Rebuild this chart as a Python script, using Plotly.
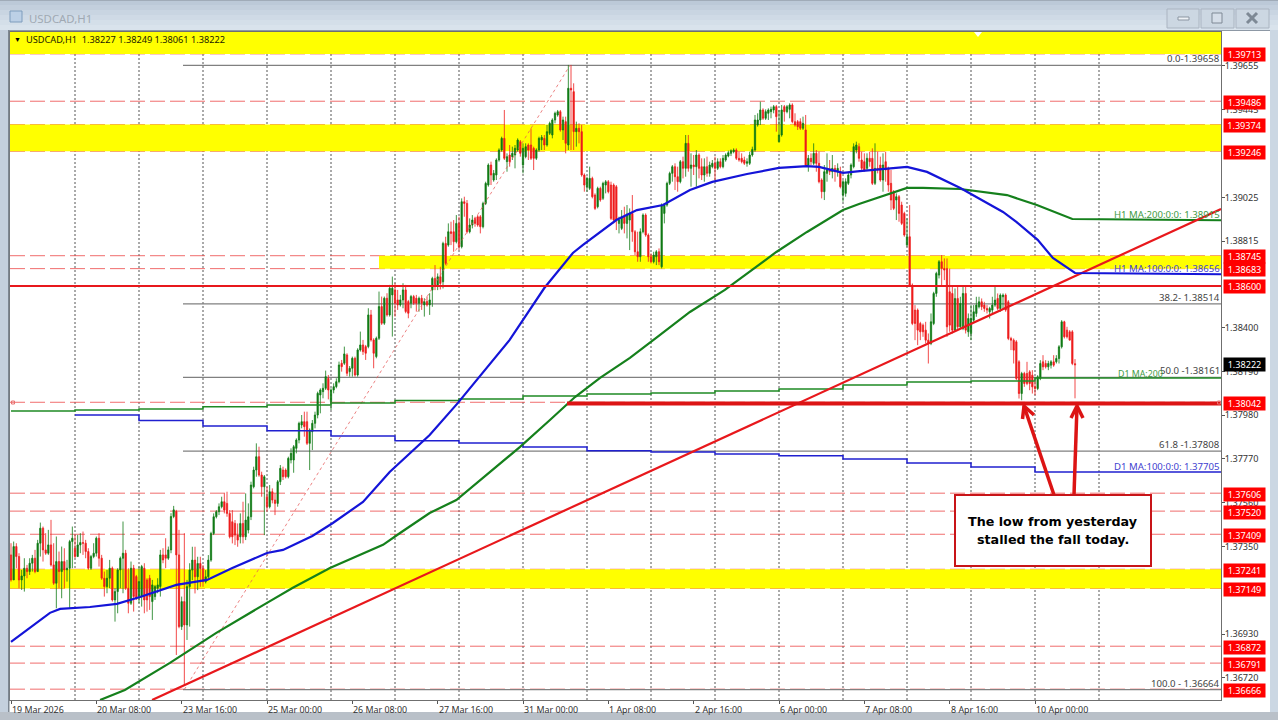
import plotly.graph_objects as go

# OHLC values in points (37310 means 1.37310), read bar by bar, H1 bars from 19 Mar 2026
opens_pts = [
37310,37190,37350,37302,37190,37209,37246,37230,37270,37294,37230,37366,37438,37334,37318,37358,37262,37174,37278,37230,37278,37238,37246,37374,
37342,37302,37358,37369,37366,37326,37246,37302,37318,37390,37294,37198,37158,37198,37246,37094,37134,37238,37294,37318,37150,37078,37246,37206,
37110,37110,37246,37190,37198,37086,37110,37150,37158,37310,37310,37294,37334,37494,37518,37310,36966,37086,36974,37158,37237,37285,37205,37269,
37245,37181,37205,37285,37413,37493,37517,37541,37565,37557,37509,37469,37461,37405,37397,37461,37397,37429,37493,37637,37717,37781,37693,37637,
37589,37541,37613,37573,37557,37661,37717,37717,37685,37765,37765,37821,37861,37933,37949,37949,37845,37901,37941,37981,38077,38093,38109,38157,
38045,38101,38117,38141,38229,38229,38269,38189,38205,38253,38173,38293,38317,38309,38309,38461,38341,38261,38349,38501,38421,38541,38461,38557,
38581,38533,38509,38533,38581,38525,38517,38549,38541,38517,38541,38509,38525,38509,38580,38636,38604,38644,38620,38804,38796,38860,38860,38812,
38900,38788,39004,38996,38860,38892,38924,38932,38932,38884,38996,39084,39180,39108,39132,39204,39252,39308,39196,39228,39220,39228,39252,39292,
39180,39220,39276,39276,39260,39212,39252,39300,39308,39276,39332,39324,39396,39420,39436,39348,39388,39276,39548,39532,39340,39356,39340,39132,
39076,39068,39116,39036,38980,39068,39020,39084,39100,39084,39084,39076,38900,38876,38932,38900,38916,38948,38860,38764,38740,38860,38940,38844,
38740,38716,38740,38764,38692,38948,38988,39092,39140,39172,39124,39100,39196,39164,39284,39164,39180,39172,39228,39172,39132,39172,39140,39172,
39188,39164,39196,39172,39204,39223,39236,39244,39252,39212,39212,39204,39188,39188,39228,39252,39372,39396,39444,39404,39428,39436,39444,39460,
39292,39324,39460,39436,39447,39468,39388,39388,39388,39356,39348,39180,39212,39188,39236,39188,39108,39052,39140,39156,39148,39164,39148,39148,
39036,39044,39092,39132,39172,39252,39268,39204,39196,39164,39212,39212,39092,39164,39180,39108,39196,39164,39092,39052,39012,39028,38988,38948,
38796,38836,38604,38484,38484,38420,38412,38388,38340,38324,38420,38564,38652,38716,38684,38684,38572,38564,38388,38540,38404,38396,38564,38380,
38372,38436,38468,38500,38524,38508,38492,38476,38484,38508,38540,38492,38548,38556,38524,38348,38340,38332,38236,38084,38180,38180,38188,38172,
38116,38108,38156,38236,38228,38212,38220,38236,38236,38252,38308,38428,38388,38380,38380,38227]
highs_pts = [
37366,37374,37366,37318,37238,37294,37262,37294,37310,37334,37382,37465,37446,37414,37430,37478,37366,37398,37326,37350,37342,37286,37382,37446,
37406,37406,37414,37422,37382,37342,37310,37366,37398,37414,37310,37230,37238,37286,37254,37150,37246,37302,37470,37334,37246,37278,37262,37214,
37254,37262,37270,37198,37214,37190,37166,37198,37334,37342,37390,37350,37510,37545,37526,37430,37110,37414,37190,37270,37349,37349,37301,37301,
37261,37237,37309,37421,37509,37525,37557,37589,37605,37613,37525,37525,37477,37461,37509,37565,37605,37557,37661,37733,37845,37829,37709,37693,
37637,37645,37629,37605,37669,37741,37733,37725,37781,37821,37837,37869,37949,37981,37997,37997,37917,37957,37997,38093,38109,38133,38194,38173,
38109,38133,38157,38237,38245,38309,38277,38216,38261,38261,38301,38381,38341,38317,38493,38485,38349,38357,38573,38549,38549,38565,38605,38645,
38613,38581,38557,38613,38605,38533,38557,38557,38557,38549,38557,38541,38549,38565,38644,38700,38660,38692,38812,38836,38900,38908,38916,38940,
38932,39020,39028,39012,38924,38940,38932,38940,38940,39004,39100,39188,39196,39156,39212,39260,39316,39444,39236,39276,39268,39276,39308,39300,
39284,39284,39284,39356,39268,39260,39316,39324,39324,39372,39388,39404,39436,39444,39444,39412,39412,39660,39660,39572,39388,39380,39372,39140,
39124,39172,39124,39044,39076,39076,39100,39108,39108,39100,39092,39084,38932,38964,38980,38988,38972,39036,38868,38860,38876,38948,38948,38852,
38756,38764,38772,38780,38996,38996,39100,39148,39180,39188,39172,39204,39220,39324,39324,39236,39228,39252,39236,39212,39212,39220,39196,39204,
39220,39212,39212,39228,39236,39249,39255,39260,39260,39244,39236,39220,39212,39244,39268,39420,39428,39484,39452,39447,39452,39460,39468,39468,
39444,39468,39468,39468,39476,39476,39428,39396,39404,39412,39420,39228,39236,39284,39252,39244,39116,39180,39236,39204,39228,39180,39188,39172,
39108,39116,39148,39188,39284,39292,39284,39244,39236,39236,39244,39260,39284,39244,39220,39236,39244,39172,39156,39060,39044,39036,39004,38956,
38924,38988,38612,38508,38492,38428,38420,38428,38372,38468,38572,38668,38724,38748,38732,38732,38684,38596,38588,38596,38548,38596,38596,38468,
38508,38508,38548,38548,38540,38524,38508,38500,38548,38596,38564,38564,38564,38564,38532,38356,38348,38340,38244,38188,38188,38236,38196,38196,
38148,38172,38244,38268,38244,38241,38244,38268,38268,38316,38436,38433,38404,38388,38388,38249]
lows_pts = [
37182,37190,37246,37150,37142,37134,37198,37214,37230,37222,37230,37302,37278,37310,37310,37254,37166,37054,37150,37102,37150,37182,37054,37246,
37294,37302,37318,37310,37294,37238,37238,37294,37302,37254,37190,37110,37126,37150,37086,36990,37030,37150,37126,37142,37030,37070,37038,37094,
37078,37062,37030,37038,37046,36998,37094,37126,37110,37270,37246,37286,37318,37486,36830,36958,36950,36686,36902,36966,37189,37125,37141,37157,
37157,37173,37197,37277,37405,37485,37501,37533,37509,37493,37389,37365,37357,37349,37365,37365,37381,37413,37477,37629,37685,37685,37589,37405,
37517,37533,37557,37501,37541,37645,37669,37677,37677,37749,37704,37797,37845,37917,37877,37837,37717,37813,37917,37965,37989,38061,38101,38056,
38005,38085,38109,38133,38189,38221,38168,38165,38165,38165,38165,38285,38269,38245,38301,38333,38205,38253,38341,38413,38413,38453,38453,38357,
38453,38485,38501,38493,38469,38445,38493,38509,38477,38477,38485,38453,38501,38461,38500,38580,38580,38583,38588,38700,38788,38796,38764,38804,
38772,38780,38932,38852,38852,38876,38884,38884,38852,38876,38988,39076,39084,39100,39108,39196,39244,39204,39148,39172,39204,39164,39244,39220,
39140,39212,39204,39204,39156,39204,39244,39252,39252,39268,39324,39308,39380,39412,39340,39300,39236,39252,39252,39252,39268,39284,39124,39052,
39052,39060,39020,38964,38972,39004,39012,39044,39044,38916,38900,38868,38852,38868,38852,38828,38772,38812,38748,38716,38716,38852,38836,38716,
38708,38708,38700,38700,38684,38900,38980,39084,39100,39060,39052,39092,39116,39124,39148,39076,39132,39076,39116,39108,39100,39124,39124,39164,
39108,39156,39164,39164,39196,39217,39223,39236,39204,39196,39188,39180,39172,39180,39220,39244,39364,39372,39396,39396,39396,39404,39428,39340,
39287,39316,39388,39428,39404,39380,39364,39348,39348,39348,39172,39148,39180,39180,39148,39092,39020,39012,39100,39132,39116,39100,39124,39068,
39004,39028,39084,39116,39164,39236,39196,39156,39148,39156,39172,39084,39084,39140,39100,39052,39100,39052,38964,38964,38916,38908,38892,38836,
38788,38596,38412,38340,38316,38340,38356,38324,38228,38316,38412,38548,38636,38596,38628,38356,38380,38372,38380,38388,38396,38388,38372,38356,
38340,38428,38452,38492,38484,38476,38468,38444,38468,38500,38484,38476,38492,38476,38340,38292,38228,38148,38060,38052,38116,38124,38100,38084,
38076,38100,38148,38196,38204,38196,38204,38212,38228,38228,38300,38348,38348,38340,38220,38061]
closes_pts = [
37190,37350,37302,37190,37209,37246,37230,37270,37294,37230,37366,37438,37334,37318,37358,37262,37174,37278,37230,37278,37238,37246,37374,37390,
37302,37358,37369,37366,37326,37246,37302,37318,37390,37294,37198,37158,37198,37246,37094,37134,37238,37294,37318,37150,37078,37246,37110,37102,
37182,37254,37094,37094,37110,37166,37158,37166,37310,37286,37294,37334,37494,37526,37310,36966,37086,36974,37158,37238,37285,37205,37269,37245,
37181,37205,37285,37413,37493,37517,37541,37565,37525,37509,37397,37397,37405,37381,37461,37397,37477,37493,37645,37717,37781,37693,37637,37685,
37541,37613,37573,37557,37661,37725,37685,37685,37773,37797,37829,37861,37941,37949,37925,37845,37909,37941,37981,38085,38101,38109,38165,38101,
38101,38117,38141,38221,38213,38274,38181,38205,38253,38173,38293,38317,38285,38277,38461,38341,38277,38349,38501,38421,38541,38461,38589,38589,
38517,38509,38533,38581,38477,38469,38549,38517,38517,38541,38517,38525,38509,38533,38636,38604,38644,38612,38804,38708,38860,38852,38812,38900,
38788,39004,38996,38860,38892,38916,38900,38892,38884,38996,39092,39180,39132,39140,39204,39252,39308,39212,39220,39196,39236,39260,39300,39236,
39260,39268,39252,39212,39212,39252,39308,39313,39276,39340,39380,39396,39428,39436,39348,39396,39284,39548,39540,39340,39356,39340,39132,39084,
39116,39116,39028,38972,39068,39012,39092,39100,39052,38924,38916,38916,38916,38932,38900,38945,38948,38860,38764,38740,38860,38940,38844,38740,
38716,38748,38764,38716,38988,38988,39092,39140,39172,39124,39100,39196,39164,39284,39164,39180,39172,39228,39164,39132,39172,39140,39180,39188,
39164,39196,39172,39212,39228,39239,39249,39252,39212,39204,39196,39188,39196,39228,39255,39396,39396,39444,39404,39436,39444,39447,39460,39412,
39324,39444,39436,39460,39468,39388,39372,39364,39356,39380,39180,39212,39196,39236,39188,39100,39052,39148,39156,39148,39164,39148,39164,39076,
39100,39100,39132,39180,39268,39276,39212,39164,39156,39212,39196,39092,39164,39156,39108,39180,39156,39084,39012,38972,39028,38948,38900,38844,
38836,38604,38420,38420,38388,38380,38380,38340,38324,38428,38564,38660,38716,38684,38676,38404,38412,38388,38540,38404,38516,38564,38388,38444,
38444,38476,38508,38524,38500,38492,38484,38492,38508,38532,38492,38556,38556,38484,38348,38340,38292,38156,38084,38180,38132,38132,38132,38116,
38108,38164,38228,38212,38212,38228,38236,38220,38252,38308,38428,38356,38356,38340,38228,38222]

# Moving averages (bar number, points)
ma100_bar = [0,14.6,18.4,29.6,39.7,48.4,62,73.5,83,96,102,113,120.7,132,142,157,167.6,187,200,210.7,214.5,227,234.7,244.5,254.6,263,276,288,298.5,303,312,318.3,336,343.5,356,372,377,385,390.7,399,453.75]
ma100_pts = [36893,37032,37051,37060,37075,37108,37166,37190,37247,37319,37334,37401,37463,37564,37708,37885,38039,38341,38590,38758,38797,38916,38964,38988,39060,39099,39137,39166,39175,39171,39142,39151,39171,39147,39070,38955,38907,38821,38734,38662,38656]
ma200_bar = [33.4,42.7,59.6,77,96,105.7,119.6,128,139.5,145.9,157,167,179.6,190.9,202.1,211.5,220.9,232.1,243.4,254.6,267.7,279,287,298.5,312,318,336,342,356,373.5,384.7,398,453.75]
ma200_pts = [36614,36662,36792,36936,37080,37152,37247,37295,37358,37415,37511,37573,37708,37828,37957,38067,38159,38255,38365,38475,38581,38686,38763,38859,38964,38993,39070,39070,39065,39036,38988,38921,38915]
d1_days = [0,24,48,72,96,120,144,168,192,216,240,264,288,312,336,360,384,453.75]
d1_ma200_pts = [38000,38005,38010,38020,38029,38039,38051,38058,38072,38082,38087,38096,38106,38125,38139,38144,38159,38159]
d1_ma100_pts = [None,37981,37954,37928,37906,37880,37858,37847,37828,37809,37804,37794,37785,37770,37751,37732,37708,37708]
trend_bar = [52.9,453.75]
trend_pts = [36614,38969]
fib_diag_bar = [65,209.6]
fib_diag_pts = [36664,39658]

dashed_levels = [1.39713,1.39486,1.39374,1.39246,1.38745,1.38683,1.38042,1.37606,1.37520,1.37409,1.37241,1.37149,1.36872,1.36791,1.36666]
tag_levels = [1.39713,1.39486,1.39374,1.39246,1.38745,1.38683,1.38600,1.38042,1.37606,1.37520,1.37409,1.37241,1.37149,1.36872,1.36791,1.36666]
fib_levels = [1.39658,1.38514,1.38161,1.37808,1.36664]
fib_labels = ["0.0-1.39658","38.2- 1.38514","50.0 -1.38161","61.8 -1.37808","100.0 - 1.36664"]
price_ticks = [1.39655,1.39445,1.39025,1.38815,1.38400,1.38190,1.37980,1.37770,1.37560,1.37350,1.36930,1.36720]
date_bars = [0,32,64,96,128,160,192,224,256,288,320,352,384]
date_labels = ["19 Mar 2026","20 Mar 08:00","23 Mar 16:00","25 Mar 00:00","26 Mar 08:00","27 Mar 16:00","31 Mar 00:00","1 Apr 08:00","2 Apr 16:00","6 Apr 00:00","7 Apr 08:00","8 Apr 16:00","10 Apr 00:00"]
separator_bars = list(range(24,409,24))

def px(points):
    return [None if p is None else 1 + p/1e5 for p in points]

XMIN, XMAX = -0.375, 453.75
YMIN, YMAX = 1.36614, 1.39818
FONT = "Noto Sans"
W, H = 1278, 720
L, R, T, B = 10, 1221, 32, 700
def PX(x): return (x-L)/(R-L)
def PY(y): return (B-y)/(B-T)

bars = list(range(len(closes_pts)))
fig = go.Figure()
fig.add_trace(go.Candlestick(x=bars, open=px(opens_pts), high=px(highs_pts), low=px(lows_pts), close=px(closes_pts),
    increasing=dict(line=dict(color="#0f7a14", width=0.8), fillcolor="#0f7a14"),
    decreasing=dict(line=dict(color="#ee1c1c", width=0.8), fillcolor="#ee1c1c"),
    whiskerwidth=0, hoverinfo="skip", showlegend=False))
def line(x, y, color, width, dash="solid", shape="linear"):
    fig.add_trace(go.Scatter(x=x, y=px(y), mode="lines", hoverinfo="skip", showlegend=False,
                             line=dict(color=color, width=width, dash=dash, shape=shape)))
line(fib_diag_bar, fib_diag_pts, "rgba(230,90,90,0.75)", 1, "dot")
line(d1_days, d1_ma200_pts, "#1f8a24", 1.5, shape="hv")
line(d1_days, d1_ma100_pts, "#2020d0", 1.5, shape="hv")
line(ma200_bar, ma200_pts, "#15801c", 2.2)
line(trend_bar, trend_pts, "#e8181c", 2.2)
line(ma100_bar, ma100_pts, "#1414d8", 2.2)

shapes = []
def band(x0, x1, lo, hi):
    shapes.append(dict(type="rect", xref="x", yref="y", x0=x0, x1=x1, y0=lo, y1=hi, fillcolor="#ffff00", line_width=0, layer="below"))
band(XMIN, XMAX, 1.39713, YMAX)
band(XMIN, XMAX, 1.39246, 1.39374)
band(138, XMAX, 1.38683, 1.38745)
band(XMIN, XMAX, 1.37149, 1.37241)
for b in separator_bars:
    shapes.append(dict(type="line", xref="x", yref="paper", x0=b, x1=b, y0=0, y1=1, layer="below",
                       line=dict(color="#555555", width=1, dash="2px,2px")))
for lv in dashed_levels:
    shapes.append(dict(type="line", xref="paper", yref="y", x0=0, x1=1, y0=lv, y1=lv, layer="below",
                       line=dict(color="rgba(235,60,60,0.75)", width=1, dash="15px,5px")))
for lv in fib_levels:
    shapes.append(dict(type="line", xref="x", yref="y", x0=64.5, x1=XMAX, y0=lv, y1=lv, layer="below",
                       line=dict(color="#808080", width=1.2)))
shapes.append(dict(type="line", xref="paper", yref="y", x0=0, x1=1, y0=1.386, y1=1.386, layer="above", line=dict(color="#e8181c", width=2)))
shapes.append(dict(type="line", xref="x", yref="y", x0=208.5, x1=XMAX, y0=1.38036, y1=1.38036, layer="above", line=dict(color="#dc1414", width=4)))
# small object markers
for xx in (13, 1219):
    shapes.append(dict(type="rect", xref="paper", yref="paper", x0=PX(xx-1.5), x1=PX(xx+1.5), y0=PY(404), y1=PY(401), line=dict(color="#e87070", width=1), fillcolor="rgba(0,0,0,0)"))
shapes.append(dict(type="path", xref="paper", yref="paper", path=f"M {PX(974)} {PY(32)} L {PX(982)} {PY(32)} L {PX(978)} {PY(37)} Z", fillcolor="#ffffff", line_width=0))

# arrows and comment box
def stroke(points):
    d = "M " + " L ".join(f"{PX(a)} {PY(b)}" for a, b in points)
    shapes.append(dict(type="path", xref="paper", yref="paper", path=d, layer="above", line=dict(color="#dc1414", width=3.5)))
stroke([(1054,495),(1024,406)]); stroke([(1022.5,419),(1024,406),(1034,415)])
stroke([(1074,495),(1077,406)]); stroke([(1071,418),(1077,406),(1083,418)])
shapes.append(dict(type="rect", xref="paper", yref="paper", x0=PX(955), x1=PX(1151), y0=PY(566), y1=PY(495), fillcolor="#ffffff",
                   line=dict(color="#c81418", width=2), layer="above"))

# window chrome
def chrome(x0, y0, x1, y1, color, line=None):
    shapes.append(dict(type="rect", xref="paper", yref="paper", x0=PX(x0), x1=PX(x1), y0=PY(y1), y1=PY(y0), fillcolor=color,
                       line=dict(color=line, width=1) if line else dict(width=0), layer="above"))
grad = ["#bcc9d8","#c3cfdd","#c9d5e2","#cfdae6","#d4dfe9","#d9e3ec"]
for k, c in enumerate(grad):
    chrome(0, k*5, W, k*5+5, c)
chrome(0, 30, W, 31, "#8d98a5")
chrome(0, 0, W, 1, "#a0abb8")
chrome(0, 30, 8, 720, "#c4d0dd")
chrome(8, 30, 9.5, 720, "#7d8792")
chrome(1270, 30, W, 720, "#cbd7e3")
chrome(0, 712, W, 720, "#b9c0c8")
for x0, x1 in ((1167,1199),(1201,1234),(1236,1269)):
    chrome(x0, 9, x1, 28, "#ccd7e2", "#aab4c1")
chrome(1178, 17, 1189, 20, "#eef2f6", "#8b95a1")
chrome(1212, 13, 1222, 23, "#d5dee8", "#7e8995")
shapes.append(dict(type="line", xref="paper", yref="paper", x0=PX(1247), x1=PX(1257), y0=PY(13), y1=PY(23), line=dict(color="#7e8995", width=3)))
shapes.append(dict(type="line", xref="paper", yref="paper", x0=PX(1247), x1=PX(1257), y0=PY(23), y1=PY(13), line=dict(color="#7e8995", width=3)))
chrome(10, 11, 22, 22, "#bcd0e6", "#7f9dbd")

ann = []
def note(text, x, y, color="#333333", size=10, xanchor="left", yanchor="middle", xref="paper", yref="paper", family=FONT, **kw):
    ann.append(dict(text=text, x=x, y=y, xref=xref, yref=yref, xanchor=xanchor, yanchor=yanchor, showarrow=False,
                    font=dict(family=family, size=size, color=color), borderpad=0, **kw))
note("USDCAD,H1", PX(28), PY(18.5), color="#a0a9b3", size=11.4)
note("▼", PX(13), PY(40), color="#000000", size=7)
note("USDCAD,H1  1.38227 1.38249 1.38061 1.38222", PX(25), PY(40), color="#1a1a00", size=9.2)
for lv in tag_levels:
    note(f"{lv:.5f}", PX(1223), lv, color="#ffffff", size=9.1, yref="y", bgcolor="#ff0000", width=41, height=13, align="center", yshift=-1)
note("1.38222", PX(1223), 1.38222, color="#ffffff", size=9.1, yref="y", bgcolor="#000000", width=41, height=13, align="center")
for lv, t in zip(fib_levels, fib_labels):
    note(t, 1, lv, color="#444444", size=9.6, xanchor="right", yanchor="bottom", yref="y", yshift=-1)
note("H1 MA:200:0:0: 1.38915", 1, 1.38915, color="#3f9a45", size=9.6, xanchor="right", yanchor="bottom", yref="y", yshift=-2)
note("H1 MA:100:0:0: 1.38656", 1, 1.38656, color="#3f3fd0", size=9.6, xanchor="right", yanchor="bottom", yref="y", yshift=-2)
note("D1 MA:200", PX(1117), 1.38159, color="#3f9a45", size=8.8, yanchor="bottom", yref="y", yshift=-3)
note("D1 MA:100:0:0: 1.37705", 1, 1.37705, color="#3f3fd0", size=9.6, xanchor="right", yanchor="bottom", yref="y", yshift=-1)
for b, t in zip(date_bars, date_labels):
    note(t, b, PY(709), color="#333333", size=8.9, xref="x")
note("<b>The low from yesterday</b>", PX(1053), PY(521), color="#000000", size=12.7, xanchor="center", family="DejaVu Sans")
note("<b>stalled the fall today.</b>", PX(1053), PY(539), color="#000000", size=12.7, xanchor="center", family="DejaVu Sans")

fig.update_layout(width=W, height=H, margin=dict(l=L, r=W-R, t=T, b=H-B, pad=0), paper_bgcolor="#ffffff", plot_bgcolor="#ffffff",
    showlegend=False, shapes=shapes, annotations=ann, hovermode=False,
    xaxis=dict(range=[XMIN, XMAX], rangeslider=dict(visible=False), showgrid=False, zeroline=False, showline=True, mirror=True,
               linecolor="#6f6f6f", linewidth=1, tickvals=date_bars, showticklabels=False, ticks="outside", ticklen=3, tickcolor="#555555"),
    yaxis=dict(range=[YMIN, YMAX], side="right", showgrid=False, zeroline=False, showline=True, mirror=True, linecolor="#6f6f6f", linewidth=1,
               tickvals=price_ticks, ticktext=[f"{v:.5f}" for v in price_ticks], ticks="outside", ticklen=3, tickcolor="#555555", ticklabelstandoff=-2,
               tickfont=dict(family=FONT, size=9.1, color="#333333")))
fig.write_html("out.html", config={"displayModeBar": False}, post_script="document.body.style.margin='0';document.documentElement.style.overflow='hidden';")
